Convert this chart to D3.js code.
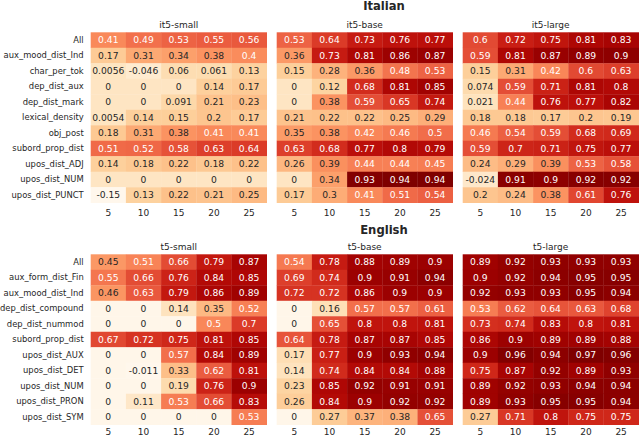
<!DOCTYPE html>
<html>
<head>
<meta charset="utf-8">
<script src="https://cdn.jsdelivr.net/npm/d3@7"></script>
<style>
  body { margin: 0; background: #fff; }
  text { font-family: "DejaVu Sans", sans-serif; }
</style>
</head>
<body>
<div id="chart"></div>
<script>
// tick labels
var steps = ["5", "10", "15", "20", "25"];

// Italian
var itModels = ["it5-small", "it5-base", "it5-large"];
var itFeatures = ["All", "aux_mood_dist_Ind", "char_per_tok", "dep_dist_aux", "dep_dist_mark",
  "lexical_density", "obj_post", "subord_prop_dist", "upos_dist_ADJ", "upos_dist_NUM", "upos_dist_PUNCT"];

var itSmall = [
  [0.41, 0.49, 0.53, 0.55, 0.56],
  [0.17, 0.31, 0.34, 0.38, 0.4],
  [0.0056, -0.046, 0.06, 0.061, 0.13],
  [0, 0, 0, 0.14, 0.17],
  [0, 0, 0.091, 0.21, 0.23],
  [0.0054, 0.14, 0.15, 0.2, 0.17],
  [0.18, 0.31, 0.38, 0.41, 0.41],
  [0.51, 0.52, 0.58, 0.63, 0.64],
  [0.14, 0.18, 0.22, 0.18, 0.22],
  [0, 0, 0, 0, 0],
  [-0.15, 0.13, 0.22, 0.21, 0.25]
];
var itBase = [
  [0.53, 0.64, 0.73, 0.76, 0.77],
  [0.36, 0.73, 0.81, 0.86, 0.87],
  [0.15, 0.28, 0.36, 0.48, 0.53],
  [0, 0.12, 0.68, 0.81, 0.85],
  [0, 0.38, 0.59, 0.65, 0.74],
  [0.21, 0.22, 0.22, 0.25, 0.29],
  [0.35, 0.38, 0.42, 0.46, 0.5],
  [0.63, 0.68, 0.77, 0.8, 0.79],
  [0.26, 0.39, 0.44, 0.44, 0.45],
  [0, 0.34, 0.93, 0.94, 0.94],
  [0.17, 0.3, 0.41, 0.51, 0.54]
];
var itLarge = [
  [0.6, 0.72, 0.75, 0.81, 0.83],
  [0.59, 0.81, 0.87, 0.89, 0.9],
  [0.15, 0.31, 0.42, 0.6, 0.63],
  [0.074, 0.59, 0.71, 0.81, 0.8],
  [0.021, 0.44, 0.76, 0.77, 0.82],
  [0.18, 0.18, 0.17, 0.2, 0.19],
  [0.46, 0.54, 0.59, 0.68, 0.69],
  [0.59, 0.7, 0.71, 0.75, 0.77],
  [0.24, 0.29, 0.39, 0.53, 0.58],
  [-0.024, 0.91, 0.9, 0.92, 0.92],
  [0.2, 0.24, 0.38, 0.61, 0.76]
];

// English
var enModels = ["t5-small", "t5-base", "t5-large"];
var enFeatures = ["All", "aux_form_dist_Fin", "aux_mood_dist_Ind", "dep_dist_compound", "dep_dist_nummod",
  "subord_prop_dist", "upos_dist_AUX", "upos_dist_DET", "upos_dist_NUM", "upos_dist_PRON", "upos_dist_SYM"];

var enSmall = [
  [0.45, 0.51, 0.66, 0.79, 0.87],
  [0.55, 0.66, 0.76, 0.84, 0.85],
  [0.46, 0.63, 0.79, 0.86, 0.89],
  [0, 0, 0.14, 0.35, 0.52],
  [0, 0, 0, 0.5, 0.7],
  [0.67, 0.72, 0.75, 0.81, 0.85],
  [0, 0, 0.57, 0.84, 0.89],
  [0, -0.011, 0.33, 0.62, 0.81],
  [0, 0, 0.19, 0.76, 0.9],
  [0, 0.11, 0.53, 0.66, 0.83],
  [0, 0, 0, 0, 0.53]
];
var enBase = [
  [0.54, 0.78, 0.88, 0.89, 0.9],
  [0.69, 0.74, 0.9, 0.91, 0.94],
  [0.72, 0.72, 0.86, 0.9, 0.9],
  [0, 0.16, 0.57, 0.57, 0.61],
  [0, 0.65, 0.8, 0.8, 0.81],
  [0.64, 0.78, 0.87, 0.87, 0.85],
  [0.17, 0.77, 0.9, 0.93, 0.94],
  [0.14, 0.74, 0.84, 0.84, 0.88],
  [0.23, 0.85, 0.92, 0.91, 0.91],
  [0.26, 0.84, 0.9, 0.92, 0.92],
  [0, 0.27, 0.37, 0.38, 0.65]
];
var enLarge = [
  [0.89, 0.92, 0.93, 0.93, 0.93],
  [0.9, 0.92, 0.94, 0.95, 0.95],
  [0.92, 0.93, 0.93, 0.95, 0.94],
  [0.53, 0.62, 0.64, 0.63, 0.68],
  [0.73, 0.74, 0.83, 0.8, 0.81],
  [0.86, 0.9, 0.89, 0.89, 0.88],
  [0.9, 0.96, 0.94, 0.97, 0.96],
  [0.75, 0.87, 0.92, 0.89, 0.93],
  [0.89, 0.92, 0.93, 0.94, 0.94],
  [0.89, 0.93, 0.95, 0.95, 0.94],
  [0.27, 0.71, 0.8, 0.75, 0.75]
];

// SVG
var svgWidth = 640;
var svgHeight = 438;

var svg = d3.select("#chart")
  .append("svg")
  .attr("width", svgWidth)
  .attr("height", svgHeight);

// python-style ".2g" with plain hyphen minus
var fmt = d3.formatLocale({decimal: ".", thousands: ",", grouping: [3], currency: ["", ""], minus: "-"}).format(".2~g");

// seaborn's annotation colour rule
function textColor(c) {
  var rgb = d3.rgb(c);
  var ch = [rgb.r, rgb.g, rgb.b].map(function(v) {
    v = v / 255;
    return v <= 0.03928 ? v / 12.92 : Math.pow((v + 0.055) / 1.055, 2.4);
  });
  var lum = 0.2126 * ch[0] + 0.7152 * ch[1] + 0.0722 * ch[2];
  return lum > 0.408 ? "#262626" : "#ffffff";
}

var panelScale = d3.scaleBand()
  .range([90.7, 638.7])
  .paddingInner(10 / 186);

function drawBlock(title, models, features, matrices, top, titleY, tickPad) {
  var all = d3.merge(matrices.map(function(m) { return d3.merge(m); }));
  var color = d3.scaleSequential(d3.interpolateOrRd)
    .domain([d3.min(all), d3.max(all)]);

  panelScale.domain(models);

  var yScale = d3.scaleBand()
    .domain(features)
    .range([top, top + 170.4]);

  svg.append("text")
    .attr("x", 384)
    .attr("y", titleY)
    .attr("text-anchor", "middle")
    .attr("font-size", "11.6px")
    .attr("font-weight", "bold")
    .attr("fill", "#262626")
    .text(title);

  models.forEach(function(model, mi) {
    var x0 = panelScale(model);
    var xScale = d3.scaleBand()
      .domain(steps)
      .range([x0, x0 + panelScale.bandwidth()]);

    var cells = [];
    matrices[mi].forEach(function(row, ri) {
      row.forEach(function(v, ci) {
        cells.push({feature: features[ri], step: steps[ci], value: v});
      });
    });

    var g = svg.append("g");

    g.selectAll("rect")
      .data(cells)
      .enter()
      .append("rect")
      .attr("x", d => xScale(d.step))
      .attr("y", d => yScale(d.feature))
      .attr("width", xScale.bandwidth() + 0.3)
      .attr("height", yScale.bandwidth() + 0.3)
      .attr("fill", d => color(d.value));

    g.selectAll("text.annot")
      .data(cells)
      .enter()
      .append("text")
      .attr("class", "annot")
      .attr("x", d => xScale(d.step) + xScale.bandwidth() / 2)
      .attr("y", d => yScale(d.feature) + yScale.bandwidth() / 2)
      .attr("dy", "0.36em")
      .attr("text-anchor", "middle")
      .attr("font-size", "9.2px")
      .attr("fill", d => textColor(color(d.value)))
      .text(d => fmt(d.value));

    // model name above the panel
    svg.append("text")
      .attr("x", x0 + panelScale.bandwidth() / 2)
      .attr("y", top - 4.3)
      .attr("text-anchor", "middle")
      .attr("font-size", "9px")
      .attr("fill", "#262626")
      .text(model);

    // x axis
    var xAxis = svg.append("g")
      .attr("transform", `translate(0, ${top + 170.4})`)
      .call(d3.axisBottom(xScale).tickSize(0).tickPadding(tickPad));
    xAxis.select(".domain").remove();
    xAxis.selectAll("text")
      .attr("font-size", "9px")
      .attr("font-family", "DejaVu Sans, sans-serif")
      .attr("fill", "#262626");

    // y axis only on the first panel
    if (mi === 0) {
      var yAxis = svg.append("g")
        .attr("transform", `translate(${x0}, 0)`)
        .call(d3.axisLeft(yScale).tickSize(0).tickPadding(7));
      yAxis.select(".domain").remove();
      yAxis.selectAll("text")
        .attr("font-size", "8.4px")
        .attr("font-family", "DejaVu Sans, sans-serif")
        .attr("fill", "#262626");
    }
  });
}

drawBlock("Italian", itModels, itFeatures, [itSmall, itBase, itLarge], 32.3, 9.5, 6.8);
drawBlock("English", enModels, enFeatures, [enSmall, enBase, enLarge], 254.3, 233.5, 4.3);
</script>
</body>
</html>
